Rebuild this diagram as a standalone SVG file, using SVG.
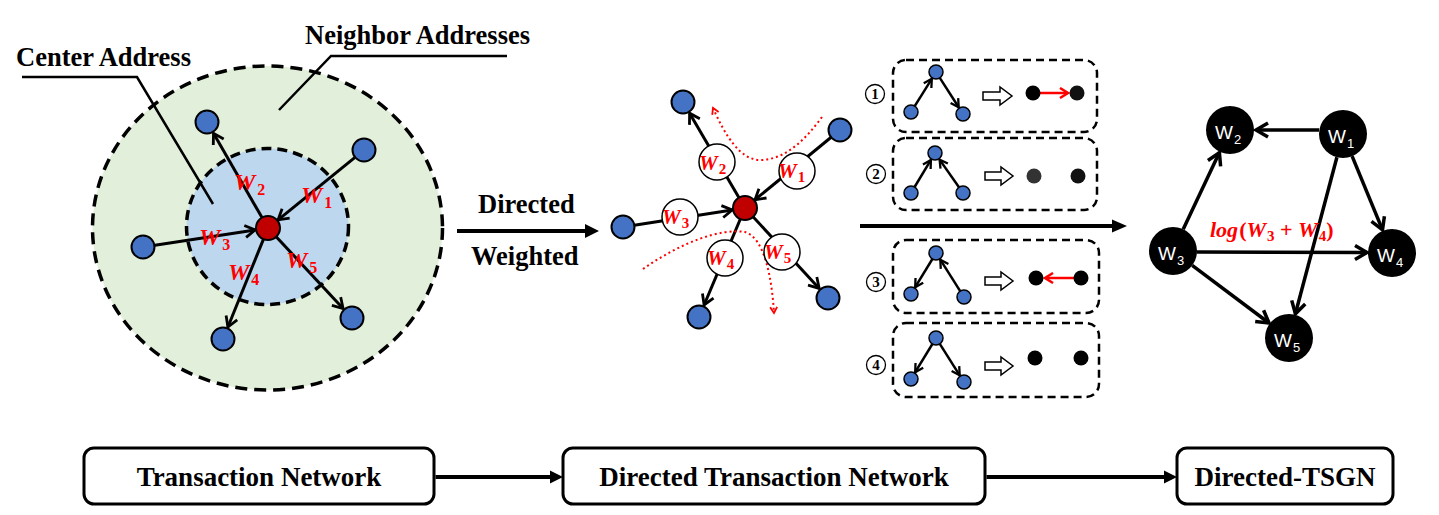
<svg xmlns="http://www.w3.org/2000/svg" width="1439" height="515" viewBox="0 0 1439 515">
<defs>
<style>
.lbl{font-family:"Liberation Serif","Times New Roman",serif;font-weight:bold;font-size:26.5px;fill:#000}
.btxt{font-family:"Liberation Serif","Times New Roman",serif;font-weight:bold;font-size:27px;fill:#000;text-anchor:middle}
.w{font-family:"Liberation Serif","Times New Roman",serif;font-weight:bold;font-style:italic;fill:#FF0000}
.up{font-style:normal}
.wt{font-family:"Liberation Sans",Arial,sans-serif;fill:#fff}
.blue{fill:#4472C4;stroke:#000;stroke-width:2}
.sblue{fill:#4472C4;stroke:#000;stroke-width:1.5}
.red{fill:#C00000;stroke:#000;stroke-width:2}
.wc{fill:#fff;stroke:#000;stroke-width:1.5}
.edge{stroke:#000;stroke-width:3;fill:none}
.sedge{stroke:#000;stroke-width:2.5;fill:none}
.redge{stroke:#FF0000;stroke-width:2.5;fill:none}
.dot{stroke:#FF0000;stroke-width:2;fill:none;stroke-dasharray:2 3}
.gedge{stroke:#000;stroke-width:3.5;fill:none}
.dbox{fill:none;stroke:#000;stroke-width:2.5;stroke-dasharray:8 5}
.bbox{fill:#fff;stroke:#000;stroke-width:3}
.num{font-family:"Liberation Serif","Times New Roman",serif;font-weight:bold;font-size:15px;fill:#000;text-anchor:middle}
.ncirc{fill:#fff;stroke:#000;stroke-width:1.3}
.hollow{fill:#fff;stroke:#000;stroke-width:1.5}
</style>
<marker id="chev" markerWidth="16" markerHeight="16" refX="13" refY="8" orient="auto" markerUnits="userSpaceOnUse"><path d="M3,2 L13,8 L3,14" fill="none" stroke="#000" stroke-width="2.8"/></marker>
<marker id="schev" markerWidth="12" markerHeight="12" refX="10" refY="6" orient="auto" markerUnits="userSpaceOnUse"><path d="M2,1.5 L10,6 L2,10.5" fill="none" stroke="#000" stroke-width="2.3"/></marker>
<marker id="rchev" markerWidth="12" markerHeight="12" refX="10" refY="6" orient="auto" markerUnits="userSpaceOnUse"><path d="M2,1 L10,6 L2,11" fill="none" stroke="#FF0000" stroke-width="2.5"/></marker>
<marker id="dchev" markerWidth="10" markerHeight="10" refX="8" refY="5" orient="auto" markerUnits="userSpaceOnUse"><path d="M2,1.5 L8,5 L2,8.5" fill="none" stroke="#FF0000" stroke-width="1.8"/></marker>
<marker id="gchev" markerWidth="18" markerHeight="18" refX="15" refY="9" orient="auto" markerUnits="userSpaceOnUse"><path d="M3,2 L15,9 L3,16" fill="none" stroke="#000" stroke-width="3.5"/></marker>
</defs>
<rect width="1439" height="515" fill="#fff"/>

<!-- Left transaction network -->
<g id="neighbor-area">
<ellipse cx="267.5" cy="228" rx="175" ry="162" fill="#E2EFDA" stroke="#000" stroke-width="3.5" stroke-dasharray="12 7"/>
</g>
<g id="center-area">
<ellipse cx="267.5" cy="226.5" rx="81" ry="78" fill="#BDD7EE" stroke="#000" stroke-width="3.5" stroke-dasharray="10 6"/>
</g>
<g id="leaders">
<polyline points="22,77 137,77 213,204" fill="none" stroke="#000" stroke-width="2.5"/>
<polyline points="279,110 331,56 507,56" fill="none" stroke="#000" stroke-width="2.5"/>
</g>
<text id="center-address-label" class="lbl" x="16" y="66">Center Address</text>
<text id="neighbor-addresses-label" class="lbl" x="305" y="44">Neighbor Addresses</text>

<g id="left-connectors">
<line class="edge" x1="354.7" y1="157.6" x2="278.1" y2="219.8" marker-end="url(#chev)"/>
<line class="edge" x1="262" y1="217.6" x2="213.5" y2="133.3" marker-end="url(#chev)"/>
<line class="edge" x1="154.9" y1="245.2" x2="255.1" y2="230" marker-end="url(#chev)"/>
<line class="edge" x1="263.5" y1="239.1" x2="227.9" y2="327" marker-end="url(#chev)"/>
<line class="edge" x1="276.2" y1="236.8" x2="343.1" y2="308.5" marker-end="url(#chev)"/>
</g>
<g id="left-nodes">
<circle id="l-n2" class="blue" cx="207" cy="122" r="11.5"/>
<circle id="l-n1" class="blue" cx="364" cy="150" r="11.5"/>
<circle id="l-n3" class="blue" cx="143" cy="247" r="11.5"/>
<circle id="l-n4" class="blue" cx="223" cy="339" r="11.5"/>
<circle id="l-n5" class="blue" cx="352" cy="318" r="11.5"/>
<circle id="l-center" class="red" cx="268" cy="228" r="12"/>
</g>
<g id="left-weights">
<text class="w" x="234" y="190" font-size="24">W<tspan class="up" font-size="16" dx="2" dy="5">2</tspan></text>
<text class="w" x="301" y="203" font-size="24">W<tspan class="up" font-size="16" dx="2" dy="5">1</tspan></text>
<text class="w" x="199" y="245" font-size="24">W<tspan class="up" font-size="16" dx="2" dy="5">3</tspan></text>
<text class="w" x="228" y="280" font-size="24">W<tspan class="up" font-size="16" dx="2" dy="5">4</tspan></text>
<text class="w" x="286" y="268" font-size="24">W<tspan class="up" font-size="16" dx="2" dy="5">5</tspan></text>
</g>

<!-- Directed / Weighted arrow -->
<g id="arrow-dw">
<line x1="457" y1="231" x2="588" y2="231" stroke="#000" stroke-width="4"/>
<polygon points="585,224 599,231 585,238" fill="#000"/>
</g>
<text class="lbl" x="478" y="213">Directed</text>
<text class="lbl" x="471" y="265">Weighted</text>

<!-- Middle star -->
<g id="mid-connectors">
<line class="edge" x1="745" y1="208" x2="689.6" y2="113.2" marker-end="url(#chev)"/>
<line class="edge" x1="840" y1="130" x2="755" y2="199.7" marker-end="url(#chev)"/>
<line class="edge" x1="623" y1="227" x2="732.2" y2="210" marker-end="url(#chev)"/>
<line class="edge" x1="745" y1="208" x2="704.1" y2="305" marker-end="url(#chev)"/>
<line class="edge" x1="745" y1="208" x2="819.2" y2="288.4" marker-end="url(#chev)"/>
<path class="dot" d="M822,117 C805,140 785,160 760,160 C740,160 725,135 713,108" marker-end="url(#dchev)"/>
<path class="dot" d="M643,269 C680,243 720,228 745,232 C765,238 772,280 774,313" marker-end="url(#dchev)"/>
</g>
<g id="mid-nodes">
<circle id="m-n2" class="blue" cx="683" cy="102" r="11.5"/>
<circle id="m-n1" class="blue" cx="840" cy="130" r="11.5"/>
<circle id="m-n3" class="blue" cx="623" cy="227" r="11.5"/>
<circle id="m-n4" class="blue" cx="699" cy="317" r="11.5"/>
<circle id="m-n5" class="blue" cx="828" cy="298" r="11.5"/>
<circle id="m-center" class="red" cx="745" cy="208" r="12"/>
</g>
<g id="mid-w2"><circle class="wc" cx="717" cy="162" r="18"/><text class="w" x="699" y="170" font-size="21">W<tspan class="up" font-size="15" dx="1" dy="4">2</tspan></text></g>
<g id="mid-w1"><circle class="wc" cx="797" cy="171" r="18"/><text class="w" x="778" y="178" font-size="21">W<tspan class="up" font-size="15" dx="1" dy="4">1</tspan></text></g>
<g id="mid-w3"><circle class="wc" cx="680" cy="217" r="18"/><text class="w" x="662" y="224" font-size="21">W<tspan class="up" font-size="15" dx="1" dy="4">3</tspan></text></g>
<g id="mid-w4"><circle class="wc" cx="725" cy="258" r="18"/><text class="w" x="707" y="265" font-size="21">W<tspan class="up" font-size="15" dx="1" dy="4">4</tspan></text></g>
<g id="mid-w5"><circle class="wc" cx="782" cy="252" r="18"/><text class="w" x="764" y="259" font-size="21">W<tspan class="up" font-size="15" dx="1" dy="4">5</tspan></text></g>

<!-- Middle long arrow -->
<g id="arrow-mid">
<line x1="860" y1="226" x2="1115" y2="226" stroke="#000" stroke-width="4"/>
<polygon points="1112,219.5 1127,226 1112,232.5" fill="#000"/>
</g>

<!-- Case boxes -->
<g id="case1">
<rect class="dbox" x="893" y="60" width="204" height="72" rx="13"/>
<circle class="ncirc" cx="875" cy="94" r="9.5"/><text class="num" x="875" y="99">1</text>
<line class="sedge" x1="914.7" y1="106.1" x2="931.8" y2="78.8" marker-end="url(#schev)"/>
<line class="sedge" x1="939.8" y1="77.9" x2="958.7" y2="107.3" marker-end="url(#schev)"/>
<circle class="sblue" cx="936" cy="72" r="7"/><circle class="sblue" cx="911" cy="112" r="7"/><circle class="sblue" cx="963" cy="114" r="7"/>
<polygon class="hollow" points="983,92 1000,92 1000,87 1012,96 1000,105 1000,100 983,100"/>
<line class="redge" x1="1040" y1="93" x2="1068" y2="93" marker-end="url(#rchev)"/>
<circle cx="1033" cy="93" r="7.5" fill="#000"/><circle cx="1077" cy="93" r="7.5" fill="#111"/>
</g>
<g id="case2">
<rect class="dbox" x="893" y="138" width="204" height="72" rx="13"/>
<circle class="ncirc" cx="876" cy="174" r="9.5"/><text class="num" x="876" y="179">2</text>
<line class="sedge" x1="914.6" y1="187" x2="930.9" y2="159.9" marker-end="url(#schev)"/>
<line class="sedge" x1="959" y1="187.3" x2="939.6" y2="159.6" marker-end="url(#schev)"/>
<circle class="sblue" cx="935" cy="153" r="7"/><circle class="sblue" cx="911" cy="193" r="7"/><circle class="sblue" cx="963" cy="193" r="7"/>
<polygon class="hollow" points="985,172 1001,172 1001,167 1013,176 1001,185 1001,180 985,180"/>
<circle cx="1034" cy="176" r="7.5" fill="#333"/><circle cx="1078" cy="176" r="7.5" fill="#111"/>
</g>
<g id="case3">
<rect class="dbox" x="893" y="240" width="206" height="73" rx="13"/>
<circle class="ncirc" cx="876" cy="282" r="9.5"/><text class="num" x="876" y="287">3</text>
<line class="sedge" x1="932.4" y1="259" x2="915.2" y2="287.2" marker-end="url(#schev)"/>
<line class="sedge" x1="960.2" y1="291.1" x2="940.3" y2="259.7" marker-end="url(#schev)"/>
<circle class="sblue" cx="936" cy="253" r="7"/><circle class="sblue" cx="911" cy="294" r="7"/><circle class="sblue" cx="964" cy="297" r="7"/>
<polygon class="hollow" points="985,277 1001,277 1001,272 1013,281 1001,290 1001,285 985,285"/>
<line class="redge" x1="1074" y1="278" x2="1045" y2="278" marker-end="url(#rchev)"/>
<circle cx="1036" cy="278" r="7.5" fill="#000"/><circle cx="1081" cy="278" r="7.5" fill="#000"/>
</g>
<g id="case4">
<rect class="dbox" x="893" y="323" width="206" height="74" rx="13"/>
<circle class="ncirc" cx="876" cy="365" r="9.5"/><text class="num" x="876" y="370">4</text>
<line class="sedge" x1="932.4" y1="344" x2="915.2" y2="372.2" marker-end="url(#schev)"/>
<line class="sedge" x1="939.8" y1="343.9" x2="959.7" y2="375.3" marker-end="url(#schev)"/>
<circle class="sblue" cx="936" cy="338" r="7"/><circle class="sblue" cx="911" cy="379" r="7"/><circle class="sblue" cx="964" cy="382" r="7"/>
<polygon class="hollow" points="985,362 1001,362 1001,357 1013,366 1001,375 1001,370 985,370"/>
<circle cx="1035" cy="358" r="7.5" fill="#000"/><circle cx="1081" cy="358" r="7.5" fill="#000"/>
</g>

<!-- Right Directed-TSGN graph -->
<g id="tsgn-connectors">
<line class="gedge" x1="1319" y1="130" x2="1256" y2="130" marker-end="url(#gchev)"/>
<line class="gedge" x1="1183.2" y1="229.3" x2="1219.4" y2="152.6" marker-end="url(#gchev)"/>
<line class="gedge" x1="1352.1" y1="156.2" x2="1382.5" y2="229.9" marker-end="url(#gchev)"/>
<line class="gedge" x1="1336.9" y1="157.2" x2="1295.4" y2="313.8" marker-end="url(#gchev)"/>
<line class="gedge" x1="1197" y1="252" x2="1367" y2="252.5" marker-end="url(#gchev)"/>
<line class="gedge" x1="1192.2" y1="265.4" x2="1269" y2="323" marker-end="url(#gchev)"/>
</g>
<g id="t-w2"><circle cx="1230" cy="130" r="24" fill="#000"/><text class="wt" x="1215" y="139" font-size="19">W<tspan font-size="13" dx="1" dy="5">2</tspan></text></g>
<g id="t-w1"><circle cx="1343" cy="134" r="24" fill="#000"/><text class="wt" x="1328" y="143" font-size="19">W<tspan font-size="13" dx="1" dy="5">1</tspan></text></g>
<g id="t-w3"><circle cx="1173" cy="251" r="24" fill="#000"/><text class="wt" x="1158" y="260" font-size="19">W<tspan font-size="13" dx="1" dy="5">3</tspan></text></g>
<g id="t-w4"><circle cx="1392" cy="253" r="24" fill="#000"/><text class="wt" x="1377" y="262" font-size="19">W<tspan font-size="13" dx="1" dy="5">4</tspan></text></g>
<g id="t-w5"><circle cx="1289" cy="338" r="24" fill="#000"/><text class="wt" x="1274" y="347" font-size="19">W<tspan font-size="13" dx="1" dy="5">5</tspan></text></g>
<text class="w" x="1210" y="237" font-size="22">log<tspan class="up" dx="1">(</tspan>W<tspan class="up" font-size="15" dx="1" dy="4">3</tspan><tspan class="up" dy="-4"> + </tspan>W<tspan class="up" font-size="15" dx="1" dy="4">4</tspan><tspan class="up" dy="-4">)</tspan></text>

<!-- Bottom pipeline -->
<g id="box-tn"><rect class="bbox" x="84" y="448" width="350" height="56" rx="10"/><text class="btxt" x="259" y="486">Transaction Network</text></g>
<g id="box-dtn"><rect class="bbox" x="563" y="448" width="422" height="56" rx="10"/><text class="btxt" x="774" y="486">Directed Transaction Network</text></g>
<g id="box-tsgn"><rect class="bbox" x="1177" y="448" width="216" height="56" rx="10"/><text class="btxt" x="1285" y="486">Directed-TSGN</text></g>
<g id="bottom-connectors">
<line x1="435.5" y1="477" x2="552" y2="477" stroke="#000" stroke-width="4"/>
<polygon points="550,470.5 563,477 550,483.5" fill="#000"/>
<line x1="986.5" y1="477" x2="1166" y2="477" stroke="#000" stroke-width="4"/>
<polygon points="1164,470.5 1177,477 1164,483.5" fill="#000"/>
</g>
</svg>
